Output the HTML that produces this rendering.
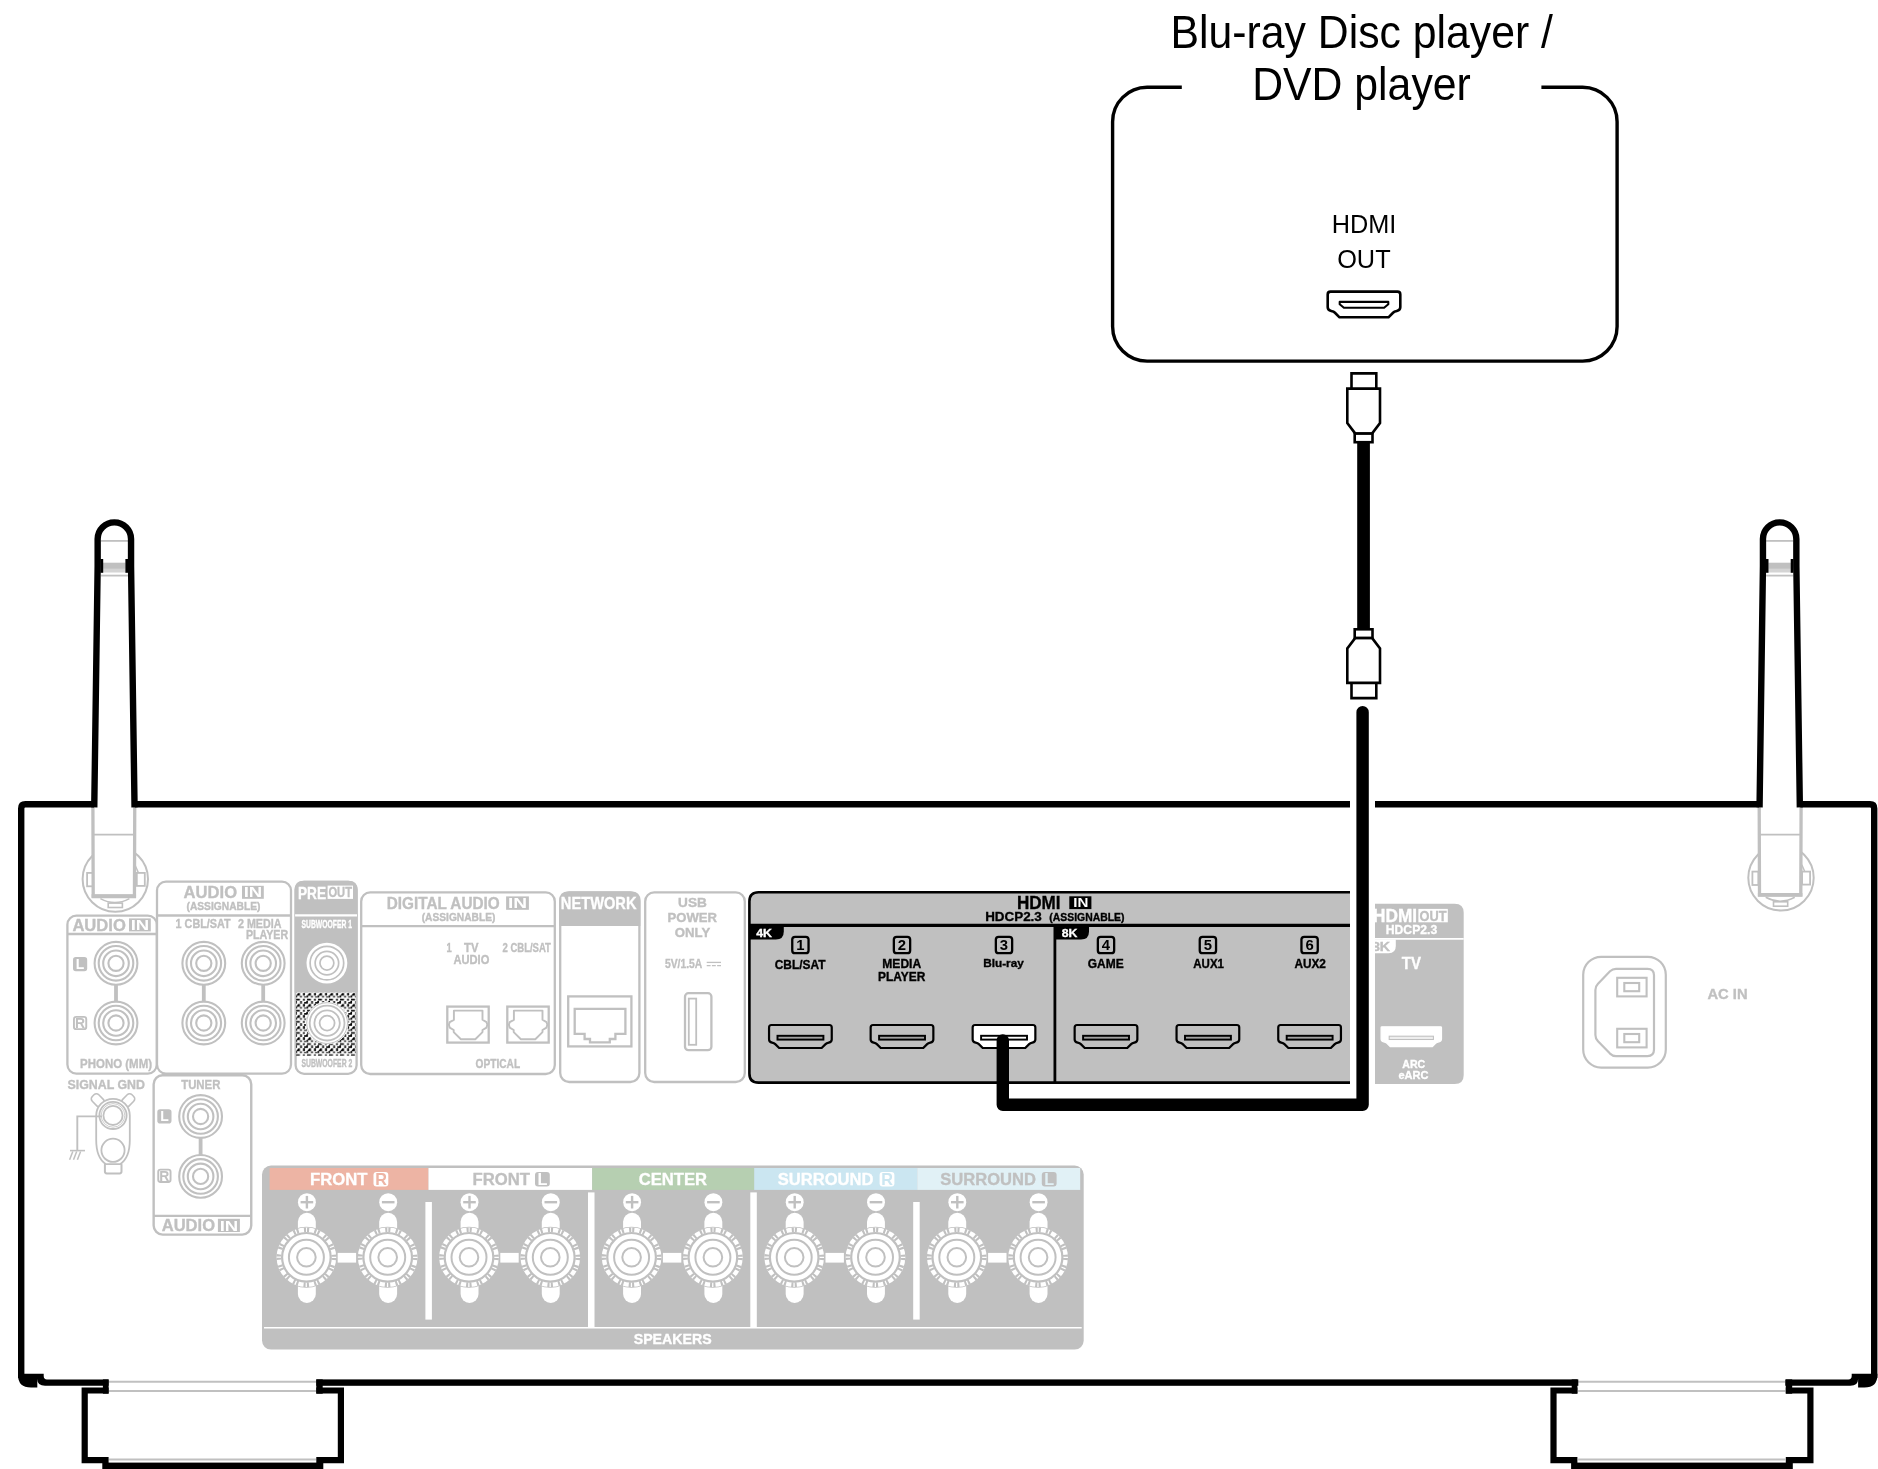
<!DOCTYPE html>
<html><head><meta charset="utf-8"><title>Blu-ray Disc player / DVD player connection</title>
<style>html,body{margin:0;padding:0;background:#fff}svg{display:block;will-change:transform}</style></head><body>
<svg width="1878" height="1469" viewBox="0 0 1878 1469">
<defs><pattern id="dither" x="295.9" y="992.64" width="11.03" height="11.1" patternUnits="userSpaceOnUse"><rect width="11.03" height="11.1" fill="#fff"/><g fill="#000"><path d="M0.08,2.94 L2.37,0.16 H4.0 V2.94 Z"/><rect x="4.17" y="3.27" width="1.8" height="1.63"/><rect x="4.17" y="-7.83" width="1.8" height="1.63"/><rect x="-6.86" y="3.27" width="1.8" height="1.63"/><rect x="-6.86" y="-7.83" width="1.8" height="1.63"/><rect x="7.10" y="0.16" width="1.96" height="2.78"/><rect x="7.10" y="-10.94" width="1.96" height="2.78"/><rect x="-3.93" y="0.16" width="1.96" height="2.78"/><rect x="-3.93" y="-10.94" width="1.96" height="2.78"/><rect x="10.50" y="2.94" width="1.7" height="1.96"/><rect x="10.50" y="-8.16" width="1.7" height="1.96"/><rect x="-0.53" y="2.94" width="1.7" height="1.96"/><rect x="-0.53" y="-8.16" width="1.7" height="1.96"/><rect x="8.10" y="3.90" width="2.45" height="1.0"/><rect x="8.10" y="-7.20" width="2.45" height="1.0"/><rect x="-2.93" y="3.90" width="2.45" height="1.0"/><rect x="-2.93" y="-7.20" width="2.45" height="1.0"/><rect x="0.08" y="6.20" width="3.9" height="1.63"/><rect x="0.08" y="-4.90" width="3.9" height="1.63"/><rect x="-10.95" y="6.20" width="3.9" height="1.63"/><rect x="-10.95" y="-4.90" width="3.9" height="1.63"/><rect x="7.10" y="6.20" width="1.8" height="1.8"/><rect x="7.10" y="-4.90" width="1.8" height="1.8"/><rect x="-3.93" y="6.20" width="1.8" height="1.8"/><rect x="-3.93" y="-4.90" width="1.8" height="1.8"/><rect x="4.33" y="8.33" width="1.63" height="2.78"/><rect x="4.33" y="-2.77" width="1.63" height="2.78"/><rect x="-6.70" y="8.33" width="1.63" height="2.78"/><rect x="-6.70" y="-2.77" width="1.63" height="2.78"/><rect x="8.25" y="9.30" width="3.76" height="1.63"/><rect x="8.25" y="-1.80" width="3.76" height="1.63"/><rect x="-2.78" y="9.30" width="3.76" height="1.63"/><rect x="-2.78" y="-1.80" width="3.76" height="1.63"/><rect x="10.37" y="8.17" width="1.63" height="1.3"/><rect x="10.37" y="-2.93" width="1.63" height="1.3"/><rect x="-0.66" y="8.17" width="1.63" height="1.3"/><rect x="-0.66" y="-2.93" width="1.63" height="1.3"/></g></pattern></defs>
<rect width="1878" height="1469" fill="#fff"/>
<circle cx="115.3" cy="879.1" r="32.7" fill="none" stroke="#c0c0c0" stroke-width="2"/>
<rect x="87.10000000000001" y="872.9" width="6" height="13.4" fill="#fff" stroke="#c0c0c0" stroke-width="1.8"/>
<rect x="136.8" y="872.9" width="8" height="13" fill="#fff" stroke="#c0c0c0" stroke-width="1.8"/>
<path d="M135.45000000000002,866.0 L138.45000000000002,872.9" fill="none" stroke="#c0c0c0" stroke-width="1.4"/>
<path d="M100.4,898.6 Q114.9,906.5 129.4,898.6" fill="none" stroke="#c0c0c0" stroke-width="1.6"/>
<rect x="108.2" y="903.1" width="14.2" height="4.4" fill="#fff" stroke="#c0c0c0" stroke-width="1.6"/>
<path d="M92.90,806 L93.20,896.2 H134.45 L134.75,806" fill="#fff" stroke="#c0c0c0" stroke-width="3.3"/>
<line x1="91.60" y1="896.2" x2="136.05" y2="896.2" stroke="#c0c0c0" stroke-width="3.9"/>
<line x1="93.20" y1="834.6" x2="134.45" y2="834.6" stroke="#c0c0c0" stroke-width="1.9"/>
<circle cx="1781.0" cy="877.8" r="32.7" fill="none" stroke="#c0c0c0" stroke-width="2"/>
<rect x="1752.4" y="871.6" width="6" height="13.4" fill="#fff" stroke="#c0c0c0" stroke-width="1.8"/>
<rect x="1802.1000000000001" y="871.6" width="8" height="13" fill="#fff" stroke="#c0c0c0" stroke-width="1.8"/>
<path d="M1801.8,864.7 L1804.8,871.6" fill="none" stroke="#c0c0c0" stroke-width="1.4"/>
<path d="M1765.7,897.3 Q1780.2,905.2 1794.7,897.3" fill="none" stroke="#c0c0c0" stroke-width="1.6"/>
<rect x="1773.5" y="901.8" width="14.2" height="4.4" fill="#fff" stroke="#c0c0c0" stroke-width="1.6"/>
<path d="M1759.20,806 L1759.50,894.9 H1800.80 L1801.10,806" fill="#fff" stroke="#c0c0c0" stroke-width="3.3"/>
<line x1="1757.90" y1="894.9" x2="1802.40" y2="894.9" stroke="#c0c0c0" stroke-width="3.9"/>
<line x1="1759.50" y1="834.6" x2="1800.80" y2="834.6" stroke="#c0c0c0" stroke-width="1.9"/>
<rect x="67.4" y="915.6" width="89.4" height="158" rx="9" fill="none" stroke="#c0c0c0" stroke-width="2.3"/>
<line x1="67.4" y1="934" x2="156.8" y2="934" stroke="#c0c0c0" stroke-width="2.3"/>
<text transform="translate(72.39,931.0) scale(0.9790,1)" font-size="16.95" font-family="Liberation Sans, sans-serif" font-weight="bold" fill="#c0c0c0" stroke="#c0c0c0" stroke-width="0.35" >AUDIO</text>
<rect x="129" y="918.4" width="21.8" height="13" fill="#c0c0c0"/>
<text transform="translate(130.69,930.2) scale(1.2479,1)" font-size="14.87" font-family="Liberation Sans, sans-serif" font-weight="bold" fill="#fff"  >IN</text>
<circle cx="116" cy="963.3" r="21.4" fill="none" stroke="#c0c0c0" stroke-width="2.1"/>
<circle cx="116" cy="963.3" r="17.3" fill="none" stroke="#c0c0c0" stroke-width="2.1"/>
<circle cx="116" cy="963.3" r="12.8" fill="none" stroke="#c0c0c0" stroke-width="2.1"/>
<circle cx="116" cy="963.3" r="7.6" fill="none" stroke="#c0c0c0" stroke-width="2.1"/>
<circle cx="116" cy="1023" r="21.4" fill="none" stroke="#c0c0c0" stroke-width="2.1"/>
<circle cx="116" cy="1023" r="17.3" fill="none" stroke="#c0c0c0" stroke-width="2.1"/>
<circle cx="116" cy="1023" r="12.8" fill="none" stroke="#c0c0c0" stroke-width="2.1"/>
<circle cx="116" cy="1023" r="7.6" fill="none" stroke="#c0c0c0" stroke-width="2.1"/>
<rect x="114.1" y="984.5" width="3.8" height="17.5" fill="#c0c0c0"/>
<rect x="73.0" y="957.1" width="14.2" height="14.2" rx="2.8" fill="#c0c0c0"/>
<text x="80.1" y="969.1" font-size="13.936000000000002" font-family="Liberation Sans, sans-serif" font-weight="bold" fill="#fff" text-anchor="middle">L</text>
<rect x="73.95" y="1016.8500000000001" width="12.3" height="12.3" rx="2.2" fill="#fff" stroke="#c0c0c0" stroke-width="1.9"/>
<text x="80.1" y="1027.9" font-size="13.936000000000002" font-family="Liberation Sans, sans-serif" font-weight="bold" fill="#c0c0c0" text-anchor="middle">R</text>
<text transform="translate(80.05,1068.2) scale(0.8764,1)" font-size="13.10" font-family="Liberation Sans, sans-serif" font-weight="bold" fill="#c0c0c0" stroke="#c0c0c0" stroke-width="0.35" >PHONO (MM)</text>
<rect x="157" y="881.6" width="134" height="192" rx="9" fill="none" stroke="#c0c0c0" stroke-width="2.3"/>
<line x1="157" y1="915.5" x2="291" y2="915.5" stroke="#c0c0c0" stroke-width="2.3"/>
<text transform="translate(183.59,898.2) scale(0.9790,1)" font-size="16.95" font-family="Liberation Sans, sans-serif" font-weight="bold" fill="#c0c0c0" stroke="#c0c0c0" stroke-width="0.35" >AUDIO</text>
<rect x="242" y="885.8" width="21.8" height="13" fill="#c0c0c0"/>
<text transform="translate(243.69,897.4) scale(1.2479,1)" font-size="14.87" font-family="Liberation Sans, sans-serif" font-weight="bold" fill="#fff"  >IN</text>
<text transform="translate(186.51,909.9) scale(1.0049,1)" font-size="10.19" font-family="Liberation Sans, sans-serif" font-weight="bold" fill="#c0c0c0" stroke="#c0c0c0" stroke-width="0.35" >(ASSIGNABLE)</text>
<text transform="translate(175.62,927.6) scale(0.8810,1)" font-size="12.27" font-family="Liberation Sans, sans-serif" font-weight="bold" fill="#c0c0c0" stroke="#c0c0c0" stroke-width="0.35" >1 CBL/SAT</text>
<text transform="translate(237.95,927.6) scale(0.8763,1)" font-size="12.27" font-family="Liberation Sans, sans-serif" font-weight="bold" fill="#c0c0c0" stroke="#c0c0c0" stroke-width="0.35" >2  MEDIA</text>
<text transform="translate(245.91,938.5) scale(0.8695,1)" font-size="12.27" font-family="Liberation Sans, sans-serif" font-weight="bold" fill="#c0c0c0" stroke="#c0c0c0" stroke-width="0.35" >PLAYER</text>
<circle cx="203.8" cy="963.3" r="21.4" fill="none" stroke="#c0c0c0" stroke-width="2.1"/>
<circle cx="203.8" cy="963.3" r="17.3" fill="none" stroke="#c0c0c0" stroke-width="2.1"/>
<circle cx="203.8" cy="963.3" r="12.8" fill="none" stroke="#c0c0c0" stroke-width="2.1"/>
<circle cx="203.8" cy="963.3" r="7.6" fill="none" stroke="#c0c0c0" stroke-width="2.1"/>
<circle cx="203.8" cy="1023" r="21.4" fill="none" stroke="#c0c0c0" stroke-width="2.1"/>
<circle cx="203.8" cy="1023" r="17.3" fill="none" stroke="#c0c0c0" stroke-width="2.1"/>
<circle cx="203.8" cy="1023" r="12.8" fill="none" stroke="#c0c0c0" stroke-width="2.1"/>
<circle cx="203.8" cy="1023" r="7.6" fill="none" stroke="#c0c0c0" stroke-width="2.1"/>
<rect x="201.9" y="984.5" width="3.8" height="17.5" fill="#c0c0c0"/>
<circle cx="263.2" cy="963.3" r="21.4" fill="none" stroke="#c0c0c0" stroke-width="2.1"/>
<circle cx="263.2" cy="963.3" r="17.3" fill="none" stroke="#c0c0c0" stroke-width="2.1"/>
<circle cx="263.2" cy="963.3" r="12.8" fill="none" stroke="#c0c0c0" stroke-width="2.1"/>
<circle cx="263.2" cy="963.3" r="7.6" fill="none" stroke="#c0c0c0" stroke-width="2.1"/>
<circle cx="263.2" cy="1023" r="21.4" fill="none" stroke="#c0c0c0" stroke-width="2.1"/>
<circle cx="263.2" cy="1023" r="17.3" fill="none" stroke="#c0c0c0" stroke-width="2.1"/>
<circle cx="263.2" cy="1023" r="12.8" fill="none" stroke="#c0c0c0" stroke-width="2.1"/>
<circle cx="263.2" cy="1023" r="7.6" fill="none" stroke="#c0c0c0" stroke-width="2.1"/>
<rect x="261.3" y="984.5" width="3.8" height="17.5" fill="#c0c0c0"/>
<path d="M294.6,992.5 V889.8 Q294.6,880.8 303.6,880.8 H348.6 Q357.6,880.8 357.6,889.8 V992.5 Z" fill="#c0c0c0"/>
<rect x="295.6" y="881.8" width="61" height="192" rx="8.5" fill="none" stroke="#c0c0c0" stroke-width="2.3"/>
<rect x="296.1" y="992.8" width="59.8" height="63" fill="url(#dither)"/>
<line x1="295.1" y1="915.3" x2="357" y2="915.3" stroke="#fff" stroke-width="2.2"/>
<text transform="translate(297.91,898.5) scale(0.8017,1)" font-size="17.10" font-family="Liberation Sans, sans-serif" font-weight="bold" fill="#fff" stroke="#fff" stroke-width="0.35" >PRE</text>
<rect x="327.6" y="885.6" width="25.4" height="13.3" fill="#fff"/>
<text transform="translate(328.45,897.3) scale(0.7853,1)" font-size="14.20" font-family="Liberation Sans, sans-serif" font-weight="bold" fill="#c0c0c0" stroke="#c0c0c0" stroke-width="0.35" >OUT</text>
<text transform="translate(301.51,927.9) scale(0.5905,1)" font-size="11.50" font-family="Liberation Sans, sans-serif" font-weight="bold" fill="#fff" stroke="#fff" stroke-width="0.35" >SUBWOOFER 1</text>
<circle cx="326.9" cy="963.1" r="20.4" fill="#fff"/>
<circle cx="326.9" cy="963.1" r="16.8" fill="none" stroke="#c0c0c0" stroke-width="1.7"/>
<circle cx="326.9" cy="963.1" r="11.75" fill="none" stroke="#c0c0c0" stroke-width="1.7"/>
<circle cx="326.9" cy="963.1" r="6.95" fill="none" stroke="#c0c0c0" stroke-width="1.7"/>
<circle cx="327.1" cy="1023.1" r="21.4" fill="#fff"/>
<circle cx="327.1" cy="1023.1" r="20.4" fill="none" stroke="#c0c0c0" stroke-width="1"/>
<circle cx="327.1" cy="1023.1" r="17.4" fill="none" stroke="#c0c0c0" stroke-width="1.8"/>
<circle cx="327.1" cy="1023.1" r="12.7" fill="none" stroke="#c0c0c0" stroke-width="1.8"/>
<circle cx="327.1" cy="1023.1" r="7.5" fill="none" stroke="#c0c0c0" stroke-width="1.8"/>
<text transform="translate(301.41,1067.4) scale(0.6110,1)" font-size="11.20" font-family="Liberation Sans, sans-serif" font-weight="bold" fill="#c0c0c0" stroke="#c0c0c0" stroke-width="0.35" >SUBWOOFER 2</text>
<rect x="361.2" y="892.4" width="193.6" height="181.6" rx="9" fill="none" stroke="#c0c0c0" stroke-width="2.3"/>
<line x1="361.2" y1="926.2" x2="554.8" y2="926.2" stroke="#c0c0c0" stroke-width="2.3"/>
<text transform="translate(386.80,909.0) scale(0.9340,1)" font-size="16.43" font-family="Liberation Sans, sans-serif" font-weight="bold" fill="#c0c0c0" stroke="#c0c0c0" stroke-width="0.35" >DIGITAL AUDIO</text>
<rect x="506.1" y="896.4" width="22.8" height="13.4" fill="#c0c0c0"/>
<text transform="translate(508.06,908.2) scale(1.2867,1)" font-size="14.87" font-family="Liberation Sans, sans-serif" font-weight="bold" fill="#fff"  >IN</text>
<text transform="translate(421.72,921.2) scale(1.0008,1)" font-size="10.19" font-family="Liberation Sans, sans-serif" font-weight="bold" fill="#c0c0c0" stroke="#c0c0c0" stroke-width="0.35" >(ASSIGNABLE)</text>
<text transform="translate(446.41,952.2) scale(0.7669,1)" font-size="12.27" font-family="Liberation Sans, sans-serif" font-weight="bold" fill="#c0c0c0" stroke="#c0c0c0" stroke-width="0.35" >1</text>
<text transform="translate(464.09,952.2) scale(0.9165,1)" font-size="12.27" font-family="Liberation Sans, sans-serif" font-weight="bold" fill="#c0c0c0" stroke="#c0c0c0" stroke-width="0.35" >TV</text>
<text transform="translate(453.42,963.8) scale(0.9084,1)" font-size="12.27" font-family="Liberation Sans, sans-serif" font-weight="bold" fill="#c0c0c0" stroke="#c0c0c0" stroke-width="0.35" >AUDIO</text>
<text transform="translate(502.49,952.2) scale(0.7758,1)" font-size="12.27" font-family="Liberation Sans, sans-serif" font-weight="bold" fill="#c0c0c0" stroke="#c0c0c0" stroke-width="0.35" >2 CBL/SAT</text>
<rect x="447.3" y="1006.6" width="41.4" height="36" fill="none" stroke="#c0c0c0" stroke-width="2.3"/>
<path d="M453.9,1010.6 L482.5,1010.6 L482.5,1019.8 L486.5,1022.1 L487.3,1024.8 L486.5,1027.6 L482.5,1030.0 L482.5,1032.1 L475.3,1039.2 L460.9,1039.2 L453.7,1032.1 L453.7,1030.0 L449.7,1027.6 L448.9,1024.8 L449.7,1022.1 L453.9,1019.8 Z" fill="none" stroke="#c0c0c0" stroke-width="1.9" stroke-linejoin="round"/>
<rect x="507.3" y="1006.6" width="41.4" height="36" fill="none" stroke="#c0c0c0" stroke-width="2.3"/>
<path d="M513.9,1010.6 L542.5,1010.6 L542.5,1019.8 L546.5,1022.1 L547.3,1024.8 L546.5,1027.6 L542.5,1030.0 L542.5,1032.1 L535.3,1039.2 L520.9,1039.2 L513.7,1032.1 L513.7,1030.0 L509.7,1027.6 L508.9,1024.8 L509.7,1022.1 L513.9,1019.8 Z" fill="none" stroke="#c0c0c0" stroke-width="1.9" stroke-linejoin="round"/>
<text transform="translate(475.59,1068.4) scale(0.8423,1)" font-size="12.06" font-family="Liberation Sans, sans-serif" font-weight="bold" fill="#c0c0c0" stroke="#c0c0c0" stroke-width="0.35" >OPTICAL</text>
<path d="M559.2,926 V900.4 Q559.2,891.4 568.2,891.4 H631.4 Q640.4,891.4 640.4,900.4 V926 Z" fill="#c0c0c0"/>
<rect x="560.2" y="892.4" width="79.2" height="189.6" rx="9" fill="none" stroke="#c0c0c0" stroke-width="2.3"/>
<text transform="translate(560.85,909.4) scale(0.8492,1)" font-size="17.26" font-family="Liberation Sans, sans-serif" font-weight="bold" fill="#fff" stroke="#fff" stroke-width="0.35" >NETWORK</text>
<rect x="568.2" y="996.4" width="63.2" height="50" fill="none" stroke="#c0c0c0" stroke-width="2.3"/>
<path d="M574.7,1008.8 H625.4 V1033.8 H615.4 V1039 H609.8 V1042.4 H590 V1039 H584.6 V1033.8 H574.7 Z" fill="none" stroke="#c0c0c0" stroke-width="2.3"/>
<rect x="645.2" y="892.4" width="99.6" height="189.6" rx="9" fill="none" stroke="#c0c0c0" stroke-width="2.3"/>
<text transform="translate(678.08,906.8) scale(1.0832,1)" font-size="12.60" font-family="Liberation Sans, sans-serif" font-weight="bold" fill="#c0c0c0" stroke="#c0c0c0" stroke-width="0.35" >USB</text>
<text transform="translate(667.55,921.8) scale(1.0403,1)" font-size="12.60" font-family="Liberation Sans, sans-serif" font-weight="bold" fill="#c0c0c0" stroke="#c0c0c0" stroke-width="0.35" >POWER</text>
<text transform="translate(674.87,936.6) scale(1.0461,1)" font-size="12.60" font-family="Liberation Sans, sans-serif" font-weight="bold" fill="#c0c0c0" stroke="#c0c0c0" stroke-width="0.35" >ONLY</text>
<text transform="translate(664.99,968.3) scale(0.8575,1)" font-size="12.06" font-family="Liberation Sans, sans-serif" font-weight="bold" fill="#c0c0c0" stroke="#c0c0c0" stroke-width="0.35" >5V/1.5A</text>
<line x1="706.7" y1="962.4" x2="721" y2="962.4" stroke="#c0c0c0" stroke-width="1.3"/>
<line x1="706.7" y1="965.6" x2="721" y2="965.6" stroke="#c0c0c0" stroke-width="1.3" stroke-dasharray="3.9 1.3"/>
<rect x="685" y="993.2" width="26.4" height="57" rx="3.5" fill="none" stroke="#c0c0c0" stroke-width="2.3"/>
<rect x="688.8" y="998.6" width="7.4" height="46.2" fill="none" stroke="#c0c0c0" stroke-width="1.8"/>
<text transform="translate(67.46,1089.2) scale(0.9528,1)" font-size="13.00" font-family="Liberation Sans, sans-serif" font-weight="bold" fill="#c0c0c0" stroke="#c0c0c0" stroke-width="0.35" >SIGNAL GND</text>
<rect x="91.2" y="1095.7" width="13.2" height="9.2" rx="3.4" fill="#fff" stroke="#c0c0c0" stroke-width="1.6" transform="rotate(45 97.8 1100.3)"/>
<rect x="121.6" y="1095.7" width="13.2" height="9.2" rx="3.4" fill="#fff" stroke="#c0c0c0" stroke-width="1.6" transform="rotate(-45 128.2 1100.3)"/>
<rect x="104.9" y="1163.2" width="16.6" height="10.2" rx="1.8" fill="#fff" stroke="#c0c0c0" stroke-width="2"/>
<path d="M96.2,1115.6 A16.8,16.8 0 0 1 129.8,1115.6 V1140 Q129.8,1158 120,1164.2 H106 Q96.2,1158 96.2,1140 Z" fill="#fff" stroke="#c0c0c0" stroke-width="1.8"/>
<circle cx="113" cy="1115.4" r="13.6" fill="none" stroke="#c0c0c0" stroke-width="1.8"/>
<circle cx="113" cy="1115.4" r="11.8" fill="none" stroke="#c0c0c0" stroke-width="0.8"/>
<circle cx="113" cy="1115.4" r="9.6" fill="#fff" stroke="#c0c0c0" stroke-width="1.8"/>
<circle cx="113" cy="1150.3" r="11.6" fill="none" stroke="#c0c0c0" stroke-width="1.8"/>
<path d="M102,1116.4 H77.3 V1150" fill="none" stroke="#c0c0c0" stroke-width="1.9"/>
<line x1="70" y1="1150.6" x2="85" y2="1150.6" stroke="#c0c0c0" stroke-width="1.6"/>
<line x1="72.8" y1="1151.4" x2="69.6" y2="1159.8" stroke="#c0c0c0" stroke-width="1.5"/>
<line x1="76.7" y1="1151.4" x2="73.5" y2="1159.8" stroke="#c0c0c0" stroke-width="1.5"/>
<line x1="80.6" y1="1151.4" x2="77.39999999999999" y2="1159.8" stroke="#c0c0c0" stroke-width="1.5"/>
<rect x="153.65" y="1075.2" width="97.6" height="159.4" rx="9" fill="none" stroke="#c0c0c0" stroke-width="2.4"/>
<line x1="154" y1="1215.8" x2="251" y2="1215.8" stroke="#c0c0c0" stroke-width="2.3"/>
<text transform="translate(181.19,1089.2) scale(0.8762,1)" font-size="13.00" font-family="Liberation Sans, sans-serif" font-weight="bold" fill="#c0c0c0" stroke="#c0c0c0" stroke-width="0.35" >TUNER</text>
<circle cx="200.6" cy="1116.5" r="21.4" fill="none" stroke="#c0c0c0" stroke-width="2.1"/>
<circle cx="200.6" cy="1116.5" r="17.3" fill="none" stroke="#c0c0c0" stroke-width="2.1"/>
<circle cx="200.6" cy="1116.5" r="12.8" fill="none" stroke="#c0c0c0" stroke-width="2.1"/>
<circle cx="200.6" cy="1116.5" r="7.6" fill="none" stroke="#c0c0c0" stroke-width="2.1"/>
<circle cx="200.6" cy="1176.4" r="21.4" fill="none" stroke="#c0c0c0" stroke-width="2.1"/>
<circle cx="200.6" cy="1176.4" r="17.3" fill="none" stroke="#c0c0c0" stroke-width="2.1"/>
<circle cx="200.6" cy="1176.4" r="12.8" fill="none" stroke="#c0c0c0" stroke-width="2.1"/>
<circle cx="200.6" cy="1176.4" r="7.6" fill="none" stroke="#c0c0c0" stroke-width="2.1"/>
<rect x="198.7" y="1137.6" width="3.8" height="17.6" fill="#c0c0c0"/>
<rect x="157.29999999999998" y="1109.3" width="14.2" height="14.2" rx="2.8" fill="#c0c0c0"/>
<text x="164.4" y="1121.3" font-size="13.936000000000002" font-family="Liberation Sans, sans-serif" font-weight="bold" fill="#fff" text-anchor="middle">L</text>
<rect x="158.24999999999997" y="1169.65" width="12.3" height="12.3" rx="2.2" fill="#fff" stroke="#c0c0c0" stroke-width="1.9"/>
<text x="164.4" y="1180.7" font-size="13.936000000000002" font-family="Liberation Sans, sans-serif" font-weight="bold" fill="#c0c0c0" text-anchor="middle">R</text>
<text transform="translate(161.69,1231.4) scale(0.9771,1)" font-size="16.95" font-family="Liberation Sans, sans-serif" font-weight="bold" fill="#c0c0c0" stroke="#c0c0c0" stroke-width="0.35" >AUDIO</text>
<rect x="217.9" y="1218.8" width="22" height="13.2" fill="#c0c0c0"/>
<text transform="translate(219.69,1230.6) scale(1.2479,1)" font-size="14.87" font-family="Liberation Sans, sans-serif" font-weight="bold" fill="#fff"  >IN</text>
<path d="M1370,903.8 H1454.7 Q1463.7,903.8 1463.7,912.8 V1074.9 Q1463.7,1083.9 1454.7,1083.9 H1370 Z" fill="#c0c0c0"/>
<line x1="1370" y1="938.8" x2="1463.7" y2="938.8" stroke="#fff" stroke-width="1.7"/>
<text transform="translate(1373.08,922.2) scale(0.9749,1)" font-size="17.68" font-family="Liberation Sans, sans-serif" font-weight="bold" fill="#fff" stroke="#fff" stroke-width="0.35" >HDMI</text>
<rect x="1418.4" y="908.9" width="29.4" height="13.4" fill="#fff"/>
<text transform="translate(1419.49,921.4) scale(0.8547,1)" font-size="14.98" font-family="Liberation Sans, sans-serif" font-weight="bold" fill="#c0c0c0" stroke="#c0c0c0" stroke-width="0.35" >OUT</text>
<text transform="translate(1385.81,934.1) scale(0.9582,1)" font-size="12.70" font-family="Liberation Sans, sans-serif" font-weight="bold" fill="#fff" stroke="#fff" stroke-width="0.35" >HDCP2.3</text>
<path d="M1370,939.6 H1395.8 V946 Q1395.8,953.2 1388.6,953.2 H1370 Z" fill="#fff"/>
<text transform="translate(1371.97,950.6) scale(1.1373,1)" font-size="12.48" font-family="Liberation Sans, sans-serif" font-weight="bold" fill="#c0c0c0" stroke="#c0c0c0" stroke-width="0.35" >8K</text>
<text transform="translate(1401.85,969.0) scale(0.9347,1)" font-size="16.02" font-family="Liberation Sans, sans-serif" font-weight="bold" fill="#fff" stroke="#fff" stroke-width="0.35" >TV</text>
<path d="M1381.90,1026.80 H1440.70 Q1441.50,1026.80 1441.50,1027.60 V1038.96 Q1441.50,1041.21 1438.80,1041.84 Q1436.82,1042.29 1435.92,1043.19 L1432.41,1046.70 H1390.19 L1386.68,1043.19 Q1385.78,1042.29 1383.80,1041.84 Q1381.10,1041.21 1381.10,1038.96 V1027.60 Q1381.10,1026.80 1381.90,1026.80 Z" fill="#fff" stroke="#fff" stroke-width="1.2" stroke-linejoin="round"/>
<rect x="1389.2" y="1036.2" width="44.2" height="3.3" fill="#eee" stroke="#c0c0c0" stroke-width="1.06"/>
<text transform="translate(1402.23,1068.1) scale(0.9850,1)" font-size="10.80" font-family="Liberation Sans, sans-serif" font-weight="bold" fill="#fff" stroke="#fff" stroke-width="0.35" >ARC</text>
<text transform="translate(1398.39,1078.7) scale(1.0244,1)" font-size="10.80" font-family="Liberation Sans, sans-serif" font-weight="bold" fill="#fff" stroke="#fff" stroke-width="0.35" >eARC</text>
<rect x="1583.2" y="956.8" width="82.6" height="110.8" rx="18" fill="none" stroke="#c0c0c0" stroke-width="2.2"/>
<path d="M1616,968.8 H1647.5 Q1654,968.8 1654,975.3 V1049.6 Q1654,1056.1 1647.5,1056.1 H1616 Q1612.6,1056.1 1610,1053.6 L1598,1041.2 Q1595.4,1038.6 1595.4,1035 V990 Q1595.4,986.4 1598,983.8 L1610,971.3 Q1612.6,968.8 1616,968.8 Z" fill="none" stroke="#c0c0c0" stroke-width="2.2" stroke-linejoin="round"/>
<rect x="1617.2" y="977.8" width="29.4" height="18.6" fill="none" stroke="#c0c0c0" stroke-width="2.1"/>
<rect x="1624.3" y="983.0" width="14.9" height="8.2" fill="none" stroke="#c0c0c0" stroke-width="2.1"/>
<rect x="1617.2" y="1028.8" width="29.4" height="18.6" fill="none" stroke="#c0c0c0" stroke-width="2.1"/>
<rect x="1624.3" y="1034.0" width="14.9" height="8.2" fill="none" stroke="#c0c0c0" stroke-width="2.1"/>
<text transform="translate(1707.43,998.6) scale(1.0036,1)" font-size="14.70" font-family="Liberation Sans, sans-serif" font-weight="bold" fill="#c0c0c0" stroke="#c0c0c0" stroke-width="0.35" >AC IN</text>
<rect x="262" y="1165.6" width="821.7" height="184" rx="9" fill="#c0c0c0"/>
<rect x="269.6" y="1168" width="158.9" height="21.9" fill="#edb4a4"/>
<rect x="428.5" y="1168" width="163.7" height="21.9" fill="#ffffff"/>
<rect x="592.2" y="1168" width="162.0" height="21.9" fill="#b6cfb1"/>
<rect x="754.2" y="1168" width="163.0" height="21.9" fill="#cbe6f1"/>
<rect x="917.2" y="1168" width="163.0" height="21.9" fill="#e1f1f6"/>
<text transform="translate(310.01,1185.3) scale(0.9713,1)" font-size="17.20" font-family="Liberation Sans, sans-serif" font-weight="bold" fill="#fff" stroke="#fff" stroke-width="0.35" >FRONT</text>
<rect x="373.5" y="1172" width="14.8" height="14.4" rx="3" fill="#fff"/>
<text x="381.0" y="1185.2" font-size="16.224" font-family="Liberation Sans, sans-serif" font-weight="bold" fill="#edb4a4" text-anchor="middle">R</text>
<text transform="translate(472.51,1185.3) scale(0.9713,1)" font-size="17.20" font-family="Liberation Sans, sans-serif" font-weight="bold" fill="#c0c0c0" stroke="#c0c0c0" stroke-width="0.35" >FRONT</text>
<rect x="535" y="1172" width="14.8" height="14.4" rx="3" fill="#c0c0c0"/>
<text x="542.5" y="1185.2" font-size="16.224" font-family="Liberation Sans, sans-serif" font-weight="bold" fill="#fff" text-anchor="middle">L</text>
<text transform="translate(638.73,1185.3) scale(0.9670,1)" font-size="17.20" font-family="Liberation Sans, sans-serif" font-weight="bold" fill="#fff" stroke="#fff" stroke-width="0.35" >CENTER</text>
<text transform="translate(777.74,1185.3) scale(0.9632,1)" font-size="17.20" font-family="Liberation Sans, sans-serif" font-weight="bold" fill="#fff" stroke="#fff" stroke-width="0.35" >SURROUND</text>
<rect x="879.6" y="1172" width="14.8" height="14.4" rx="3" fill="#fff"/>
<text x="887.1" y="1185.2" font-size="16.224" font-family="Liberation Sans, sans-serif" font-weight="bold" fill="#cbe6f1" text-anchor="middle">R</text>
<text transform="translate(940.24,1185.3) scale(0.9632,1)" font-size="17.20" font-family="Liberation Sans, sans-serif" font-weight="bold" fill="#c0c0c0" stroke="#c0c0c0" stroke-width="0.35" >SURROUND</text>
<rect x="1041.8" y="1172" width="14.8" height="14.4" rx="3" fill="#c0c0c0"/>
<text x="1049.3" y="1185.2" font-size="16.224" font-family="Liberation Sans, sans-serif" font-weight="bold" fill="#e1f1f6" text-anchor="middle">L</text>
<line x1="264" y1="1327.8" x2="1081.7" y2="1327.8" stroke="#fff" stroke-width="1.6"/>
<text transform="translate(633.71,1344.2) scale(0.9726,1)" font-size="14.56" font-family="Liberation Sans, sans-serif" font-weight="bold" fill="#fff" stroke="#fff" stroke-width="0.35" >SPEAKERS</text>
<rect x="425.4" y="1202" width="6.5" height="117.6" fill="#fff"/>
<rect x="588" y="1192.4" width="6.5" height="135.0" fill="#fff"/>
<rect x="750.3" y="1192.4" width="6.5" height="135.0" fill="#fff"/>
<rect x="913.2" y="1202" width="6.5" height="117.6" fill="#fff"/>
<rect x="337.7" y="1252.9" width="18.4" height="9.7" fill="#fff"/>
<rect x="500.3" y="1252.9" width="18.4" height="9.7" fill="#fff"/>
<rect x="662.9" y="1252.9" width="18.4" height="9.7" fill="#fff"/>
<rect x="825.5" y="1252.9" width="18.4" height="9.7" fill="#fff"/>
<rect x="988.1" y="1252.9" width="18.4" height="9.7" fill="#fff"/>
<rect x="297.9" y="1212.8" width="17.9" height="90.1" rx="8.95" fill="#fff"/>
<circle cx="306.4" cy="1257.3" r="30.5" fill="#c0c0c0"/>
<circle cx="306.4" cy="1257.3" r="29.8" fill="#fff"/>
<circle cx="306.4" cy="1257.3" r="27.45" fill="none" stroke="#c0c0c0" stroke-width="4.9" stroke-dasharray="2.1 1.3 2.1 5.280" stroke-dashoffset="2.75" transform="rotate(-90 306.4 1257.3)"/>
<circle cx="306.4" cy="1257.3" r="24.3" fill="none" stroke="#c0c0c0" stroke-width="2.2"/>
<circle cx="306.4" cy="1257.3" r="17.5" fill="none" stroke="#c0c0c0" stroke-width="2"/>
<circle cx="306.4" cy="1257.3" r="9.3" fill="none" stroke="#c0c0c0" stroke-width="2"/>
<circle cx="306.9" cy="1202.2" r="8.95" fill="#fff"/>
<line x1="300.6" y1="1202.2" x2="313.2" y2="1202.2" stroke="#c0c0c0" stroke-width="2.4"/>
<line x1="306.9" y1="1195.9" x2="306.9" y2="1208.5" stroke="#c0c0c0" stroke-width="2.4"/>
<rect x="379.2" y="1212.8" width="17.9" height="90.1" rx="8.95" fill="#fff"/>
<circle cx="387.7" cy="1257.3" r="30.5" fill="#c0c0c0"/>
<circle cx="387.7" cy="1257.3" r="29.8" fill="#fff"/>
<circle cx="387.7" cy="1257.3" r="27.45" fill="none" stroke="#c0c0c0" stroke-width="4.9" stroke-dasharray="2.1 1.3 2.1 5.280" stroke-dashoffset="2.75" transform="rotate(-90 387.7 1257.3)"/>
<circle cx="387.7" cy="1257.3" r="24.3" fill="none" stroke="#c0c0c0" stroke-width="2.2"/>
<circle cx="387.7" cy="1257.3" r="17.5" fill="none" stroke="#c0c0c0" stroke-width="2"/>
<circle cx="387.7" cy="1257.3" r="9.3" fill="none" stroke="#c0c0c0" stroke-width="2"/>
<circle cx="388.2" cy="1202.2" r="8.95" fill="#fff"/>
<line x1="381.9" y1="1202.2" x2="394.5" y2="1202.2" stroke="#c0c0c0" stroke-width="2.4"/>
<rect x="460.6" y="1212.8" width="17.9" height="90.1" rx="8.95" fill="#fff"/>
<circle cx="469.0" cy="1257.3" r="30.5" fill="#c0c0c0"/>
<circle cx="469.0" cy="1257.3" r="29.8" fill="#fff"/>
<circle cx="469.0" cy="1257.3" r="27.45" fill="none" stroke="#c0c0c0" stroke-width="4.9" stroke-dasharray="2.1 1.3 2.1 5.280" stroke-dashoffset="2.75" transform="rotate(-90 469.0 1257.3)"/>
<circle cx="469.0" cy="1257.3" r="24.3" fill="none" stroke="#c0c0c0" stroke-width="2.2"/>
<circle cx="469.0" cy="1257.3" r="17.5" fill="none" stroke="#c0c0c0" stroke-width="2"/>
<circle cx="469.0" cy="1257.3" r="9.3" fill="none" stroke="#c0c0c0" stroke-width="2"/>
<circle cx="469.5" cy="1202.2" r="8.95" fill="#fff"/>
<line x1="463.2" y1="1202.2" x2="475.8" y2="1202.2" stroke="#c0c0c0" stroke-width="2.4"/>
<line x1="469.5" y1="1195.9" x2="469.5" y2="1208.5" stroke="#c0c0c0" stroke-width="2.4"/>
<rect x="541.8" y="1212.8" width="17.9" height="90.1" rx="8.95" fill="#fff"/>
<circle cx="550.3" cy="1257.3" r="30.5" fill="#c0c0c0"/>
<circle cx="550.3" cy="1257.3" r="29.8" fill="#fff"/>
<circle cx="550.3" cy="1257.3" r="27.45" fill="none" stroke="#c0c0c0" stroke-width="4.9" stroke-dasharray="2.1 1.3 2.1 5.280" stroke-dashoffset="2.75" transform="rotate(-90 550.3 1257.3)"/>
<circle cx="550.3" cy="1257.3" r="24.3" fill="none" stroke="#c0c0c0" stroke-width="2.2"/>
<circle cx="550.3" cy="1257.3" r="17.5" fill="none" stroke="#c0c0c0" stroke-width="2"/>
<circle cx="550.3" cy="1257.3" r="9.3" fill="none" stroke="#c0c0c0" stroke-width="2"/>
<circle cx="550.8" cy="1202.2" r="8.95" fill="#fff"/>
<line x1="544.5" y1="1202.2" x2="557.1" y2="1202.2" stroke="#c0c0c0" stroke-width="2.4"/>
<rect x="623.1" y="1212.8" width="17.9" height="90.1" rx="8.95" fill="#fff"/>
<circle cx="631.6" cy="1257.3" r="30.5" fill="#c0c0c0"/>
<circle cx="631.6" cy="1257.3" r="29.8" fill="#fff"/>
<circle cx="631.6" cy="1257.3" r="27.45" fill="none" stroke="#c0c0c0" stroke-width="4.9" stroke-dasharray="2.1 1.3 2.1 5.280" stroke-dashoffset="2.75" transform="rotate(-90 631.6 1257.3)"/>
<circle cx="631.6" cy="1257.3" r="24.3" fill="none" stroke="#c0c0c0" stroke-width="2.2"/>
<circle cx="631.6" cy="1257.3" r="17.5" fill="none" stroke="#c0c0c0" stroke-width="2"/>
<circle cx="631.6" cy="1257.3" r="9.3" fill="none" stroke="#c0c0c0" stroke-width="2"/>
<circle cx="632.1" cy="1202.2" r="8.95" fill="#fff"/>
<line x1="625.8" y1="1202.2" x2="638.4" y2="1202.2" stroke="#c0c0c0" stroke-width="2.4"/>
<line x1="632.1" y1="1195.9" x2="632.1" y2="1208.5" stroke="#c0c0c0" stroke-width="2.4"/>
<rect x="704.4" y="1212.8" width="17.9" height="90.1" rx="8.95" fill="#fff"/>
<circle cx="712.9" cy="1257.3" r="30.5" fill="#c0c0c0"/>
<circle cx="712.9" cy="1257.3" r="29.8" fill="#fff"/>
<circle cx="712.9" cy="1257.3" r="27.45" fill="none" stroke="#c0c0c0" stroke-width="4.9" stroke-dasharray="2.1 1.3 2.1 5.280" stroke-dashoffset="2.75" transform="rotate(-90 712.9 1257.3)"/>
<circle cx="712.9" cy="1257.3" r="24.3" fill="none" stroke="#c0c0c0" stroke-width="2.2"/>
<circle cx="712.9" cy="1257.3" r="17.5" fill="none" stroke="#c0c0c0" stroke-width="2"/>
<circle cx="712.9" cy="1257.3" r="9.3" fill="none" stroke="#c0c0c0" stroke-width="2"/>
<circle cx="713.4" cy="1202.2" r="8.95" fill="#fff"/>
<line x1="707.1" y1="1202.2" x2="719.7" y2="1202.2" stroke="#c0c0c0" stroke-width="2.4"/>
<rect x="785.7" y="1212.8" width="17.9" height="90.1" rx="8.95" fill="#fff"/>
<circle cx="794.2" cy="1257.3" r="30.5" fill="#c0c0c0"/>
<circle cx="794.2" cy="1257.3" r="29.8" fill="#fff"/>
<circle cx="794.2" cy="1257.3" r="27.45" fill="none" stroke="#c0c0c0" stroke-width="4.9" stroke-dasharray="2.1 1.3 2.1 5.280" stroke-dashoffset="2.75" transform="rotate(-90 794.2 1257.3)"/>
<circle cx="794.2" cy="1257.3" r="24.3" fill="none" stroke="#c0c0c0" stroke-width="2.2"/>
<circle cx="794.2" cy="1257.3" r="17.5" fill="none" stroke="#c0c0c0" stroke-width="2"/>
<circle cx="794.2" cy="1257.3" r="9.3" fill="none" stroke="#c0c0c0" stroke-width="2"/>
<circle cx="794.7" cy="1202.2" r="8.95" fill="#fff"/>
<line x1="788.4" y1="1202.2" x2="801.0" y2="1202.2" stroke="#c0c0c0" stroke-width="2.4"/>
<line x1="794.7" y1="1195.9" x2="794.7" y2="1208.5" stroke="#c0c0c0" stroke-width="2.4"/>
<rect x="867.0" y="1212.8" width="17.9" height="90.1" rx="8.95" fill="#fff"/>
<circle cx="875.5" cy="1257.3" r="30.5" fill="#c0c0c0"/>
<circle cx="875.5" cy="1257.3" r="29.8" fill="#fff"/>
<circle cx="875.5" cy="1257.3" r="27.45" fill="none" stroke="#c0c0c0" stroke-width="4.9" stroke-dasharray="2.1 1.3 2.1 5.280" stroke-dashoffset="2.75" transform="rotate(-90 875.5 1257.3)"/>
<circle cx="875.5" cy="1257.3" r="24.3" fill="none" stroke="#c0c0c0" stroke-width="2.2"/>
<circle cx="875.5" cy="1257.3" r="17.5" fill="none" stroke="#c0c0c0" stroke-width="2"/>
<circle cx="875.5" cy="1257.3" r="9.3" fill="none" stroke="#c0c0c0" stroke-width="2"/>
<circle cx="876.0" cy="1202.2" r="8.95" fill="#fff"/>
<line x1="869.7" y1="1202.2" x2="882.3" y2="1202.2" stroke="#c0c0c0" stroke-width="2.4"/>
<rect x="948.3" y="1212.8" width="17.9" height="90.1" rx="8.95" fill="#fff"/>
<circle cx="956.8" cy="1257.3" r="30.5" fill="#c0c0c0"/>
<circle cx="956.8" cy="1257.3" r="29.8" fill="#fff"/>
<circle cx="956.8" cy="1257.3" r="27.45" fill="none" stroke="#c0c0c0" stroke-width="4.9" stroke-dasharray="2.1 1.3 2.1 5.280" stroke-dashoffset="2.75" transform="rotate(-90 956.8 1257.3)"/>
<circle cx="956.8" cy="1257.3" r="24.3" fill="none" stroke="#c0c0c0" stroke-width="2.2"/>
<circle cx="956.8" cy="1257.3" r="17.5" fill="none" stroke="#c0c0c0" stroke-width="2"/>
<circle cx="956.8" cy="1257.3" r="9.3" fill="none" stroke="#c0c0c0" stroke-width="2"/>
<circle cx="957.3" cy="1202.2" r="8.95" fill="#fff"/>
<line x1="951.0" y1="1202.2" x2="963.6" y2="1202.2" stroke="#c0c0c0" stroke-width="2.4"/>
<line x1="957.3" y1="1195.9" x2="957.3" y2="1208.5" stroke="#c0c0c0" stroke-width="2.4"/>
<rect x="1029.6" y="1212.8" width="17.9" height="90.1" rx="8.95" fill="#fff"/>
<circle cx="1038.1" cy="1257.3" r="30.5" fill="#c0c0c0"/>
<circle cx="1038.1" cy="1257.3" r="29.8" fill="#fff"/>
<circle cx="1038.1" cy="1257.3" r="27.45" fill="none" stroke="#c0c0c0" stroke-width="4.9" stroke-dasharray="2.1 1.3 2.1 5.280" stroke-dashoffset="2.75" transform="rotate(-90 1038.1 1257.3)"/>
<circle cx="1038.1" cy="1257.3" r="24.3" fill="none" stroke="#c0c0c0" stroke-width="2.2"/>
<circle cx="1038.1" cy="1257.3" r="17.5" fill="none" stroke="#c0c0c0" stroke-width="2"/>
<circle cx="1038.1" cy="1257.3" r="9.3" fill="none" stroke="#c0c0c0" stroke-width="2"/>
<circle cx="1038.6" cy="1202.2" r="8.95" fill="#fff"/>
<line x1="1032.3" y1="1202.2" x2="1044.9" y2="1202.2" stroke="#c0c0c0" stroke-width="2.4"/>
<line x1="108.6" y1="1381.8" x2="316.3" y2="1381.8" stroke="#c0c0c0" stroke-width="2"/>
<line x1="108.6" y1="1391.1" x2="316.3" y2="1391.1" stroke="#c0c0c0" stroke-width="2"/>
<line x1="108.6" y1="1459.6" x2="316.3" y2="1459.6" stroke="#c0c0c0" stroke-width="2"/>
<line x1="1578.1" y1="1381.8" x2="1785.3" y2="1381.8" stroke="#c0c0c0" stroke-width="2"/>
<line x1="1578.1" y1="1391.1" x2="1785.3" y2="1391.1" stroke="#c0c0c0" stroke-width="2"/>
<line x1="1578.1" y1="1459.6" x2="1785.3" y2="1459.6" stroke="#c0c0c0" stroke-width="2"/>
<path d="M21.2,1378 V808.4 Q21.2,804.2 25.4,804.2 H94" fill="none" stroke="#000" stroke-width="6.4"/>
<path d="M134.8,804.2 H1350" fill="none" stroke="#000" stroke-width="6.4"/>
<path d="M1375,804.2 H1759.2" fill="none" stroke="#000" stroke-width="6.4"/>
<path d="M1800.4,804.2 H1870 Q1874.2,804.2 1874.2,808.4 V1378" fill="none" stroke="#000" stroke-width="6.4"/>
<path d="M18,1373.7 H43.7 V1376 Q43.7,1379.4 47,1379.4 H108.6 V1385.8 H45 Q37.3,1385.8 37.3,1379 V1387.5 H31 Q18,1387.5 18,1375 Z" fill="#000"/>
<path d="M1877.4,1373.7 H1851.7 V1376 Q1851.7,1379.4 1848.4,1379.4 H1785.3 V1385.8 H1850.4 Q1858.1,1385.8 1858.1,1379 V1387.5 H1864.4 Q1877.4,1387.5 1877.4,1375 Z" fill="#000"/>
<rect x="316.3" y="1379.4" width="1262" height="6.4" fill="#000"/>
<rect x="102.9" y="1379.4" width="5.7" height="14.3" fill="#000"/>
<rect x="316.3" y="1379.4" width="6.4" height="14.3" fill="#000"/>
<path d="M108.6,1390.5 H84.7 V1460.1 H108.6" fill="none" stroke="#000" stroke-width="6.2"/>
<path d="M316.3,1390.5 H340.9 V1460.1 H316.3" fill="none" stroke="#000" stroke-width="6.2"/>
<rect x="102.3" y="1462.6" width="221.0" height="8" fill="#000"/>
<rect x="1571.7" y="1379.4" width="5.7" height="14.3" fill="#000"/>
<rect x="1785.8" y="1379.4" width="6.4" height="14.3" fill="#000"/>
<path d="M1577.4,1390.5 H1553.5 V1460.1 H1577.4" fill="none" stroke="#000" stroke-width="6.2"/>
<path d="M1785.8,1390.5 H1810.4 V1460.1 H1785.8" fill="none" stroke="#000" stroke-width="6.2"/>
<rect x="1571.1" y="1462.6" width="221.7" height="8" fill="#000"/>
<line x1="100.80000000000001" y1="540.9" x2="128.0" y2="540.9" stroke="#c0c0c0" stroke-width="1.8"/>
<rect x="103.0" y="562.7" width="22.6" height="6.2" fill="#c0c0c0"/>
<rect x="103.0" y="568.9" width="22.6" height="3.6" fill="#d4d4d4"/>
<line x1="100.80000000000001" y1="575.6" x2="128.0" y2="575.6" stroke="#c0c0c0" stroke-width="1.8"/>
<path d="M94.25,807.4 L97.65,566 V539.1 A16.7,16.7 0 0 1 131.05,539.1 V566 L134.55,807.4" fill="none" stroke="#000" stroke-width="6.4" stroke-linejoin="miter"/>
<rect x="100.4" y="559" width="2.8" height="13.8" fill="#000"/>
<rect x="125.4" y="559" width="2.8" height="13.8" fill="#000"/>
<line x1="1766.1000000000001" y1="540.9" x2="1793.3" y2="540.9" stroke="#c0c0c0" stroke-width="1.8"/>
<rect x="1768.3" y="562.7" width="22.6" height="6.2" fill="#c0c0c0"/>
<rect x="1768.3" y="568.9" width="22.6" height="3.6" fill="#d4d4d4"/>
<line x1="1766.1000000000001" y1="575.6" x2="1793.3" y2="575.6" stroke="#c0c0c0" stroke-width="1.8"/>
<path d="M1759.55,807.4 L1762.95,566 V539.1 A16.7,16.7 0 0 1 1796.3500000000001,539.1 V566 L1799.8500000000001,807.4" fill="none" stroke="#000" stroke-width="6.4" stroke-linejoin="miter"/>
<rect x="1765.7" y="559" width="2.8" height="13.8" fill="#000"/>
<rect x="1790.7" y="559" width="2.8" height="13.8" fill="#000"/>
<path d="M1350,892.3 H758.6 Q749.4,892.3 749.4,901.5 V1073.4 Q749.4,1082.6 758.6,1082.6 H1350 Z" fill="#c0c0c0"/>
<path d="M1350,892.3 H758.6 Q749.4,892.3 749.4,901.5 V1073.4 Q749.4,1082.6 758.6,1082.6 H1350" fill="none" stroke="#000" stroke-width="2.6"/>
<line x1="749.4" y1="925.4" x2="1350" y2="925.4" stroke="#000" stroke-width="3.2"/>
<line x1="1054.9" y1="925.4" x2="1054.9" y2="1082.6" stroke="#000" stroke-width="2.8"/>
<path d="M749,925 H783.8 V931.4 Q783.8,939.4 775.8,939.4 H749 Z" fill="#000"/>
<path d="M1054.9,925 H1089 V931.4 Q1089,939.4 1081,939.4 H1054.9 Z" fill="#000"/>
<text transform="translate(756.22,936.8) scale(1.0764,1)" font-size="11.40" font-family="Liberation Sans, sans-serif" font-weight="bold" fill="#fff" stroke="#fff" stroke-width="0.35" >4K</text>
<text transform="translate(1061.63,936.8) scale(1.0753,1)" font-size="11.40" font-family="Liberation Sans, sans-serif" font-weight="bold" fill="#fff" stroke="#fff" stroke-width="0.35" >8K</text>
<text transform="translate(1016.89,908.5) scale(0.9645,1)" font-size="17.70" font-family="Liberation Sans, sans-serif" font-weight="bold" fill="#000" stroke="#000" stroke-width="0.35" >HDMI</text>
<rect x="1069.3" y="896.3" width="22.1" height="12.8" fill="#000"/>
<text transform="translate(1073.22,907.4) scale(1.1890,1)" font-size="12.70" font-family="Liberation Sans, sans-serif" font-weight="bold" fill="#fff"  >IN</text>
<text transform="translate(985.13,921.4) scale(1.0331,1)" font-size="13.00" font-family="Liberation Sans, sans-serif" font-weight="bold" fill="#000" stroke="#000" stroke-width="0.35" >HDCP2.3</text>
<text transform="translate(1049.31,920.9) scale(0.9821,1)" font-size="10.60" font-family="Liberation Sans, sans-serif" font-weight="bold" fill="#000" stroke="#000" stroke-width="0.35" >(ASSIGNABLE)</text>
<rect x="792.25" y="936.8" width="16.3" height="16.4" rx="2.8" fill="none" stroke="#000" stroke-width="2.3"/>
<text x="800.4" y="950.2" font-size="14.872000000000002" font-family="Liberation Sans, sans-serif" font-weight="bold" fill="#000" text-anchor="middle">1</text>
<path d="M771.45,1025.00 H829.35 Q831.75,1025.00 831.75,1027.40 V1039.40 Q831.75,1041.90 828.75,1042.60 Q826.55,1043.10 825.55,1044.10 L821.65,1048.00 H779.15 L775.25,1044.10 Q774.25,1043.10 772.05,1042.60 Q769.05,1041.90 769.05,1039.40 V1027.40 Q769.05,1025.00 771.45,1025.00 Z" fill="none" stroke="#000" stroke-width="2.2" stroke-linejoin="round"/>
<rect x="777.5" y="1035.8" width="45.9" height="3.8" fill="#a2a2a2" stroke="#000" stroke-width="1.94"/>
<rect x="893.85" y="936.8" width="16.3" height="16.4" rx="2.8" fill="none" stroke="#000" stroke-width="2.3"/>
<text x="902.0" y="950.2" font-size="14.872000000000002" font-family="Liberation Sans, sans-serif" font-weight="bold" fill="#000" text-anchor="middle">2</text>
<path d="M873.05,1025.00 H930.95 Q933.35,1025.00 933.35,1027.40 V1039.40 Q933.35,1041.90 930.35,1042.60 Q928.15,1043.10 927.15,1044.10 L923.25,1048.00 H880.75 L876.85,1044.10 Q875.85,1043.10 873.65,1042.60 Q870.65,1041.90 870.65,1039.40 V1027.40 Q870.65,1025.00 873.05,1025.00 Z" fill="none" stroke="#000" stroke-width="2.2" stroke-linejoin="round"/>
<rect x="879.1" y="1035.8" width="45.9" height="3.8" fill="#a2a2a2" stroke="#000" stroke-width="1.94"/>
<rect x="995.85" y="936.8" width="16.3" height="16.4" rx="2.8" fill="none" stroke="#000" stroke-width="2.3"/>
<text x="1004.0" y="950.2" font-size="14.872000000000002" font-family="Liberation Sans, sans-serif" font-weight="bold" fill="#000" text-anchor="middle">3</text>
<path d="M975.05,1025.00 H1032.95 Q1035.35,1025.00 1035.35,1027.40 V1039.40 Q1035.35,1041.90 1032.35,1042.60 Q1030.15,1043.10 1029.15,1044.10 L1025.25,1048.00 H982.75 L978.85,1044.10 Q977.85,1043.10 975.65,1042.60 Q972.65,1041.90 972.65,1039.40 V1027.40 Q972.65,1025.00 975.05,1025.00 Z" fill="#fff" stroke="#000" stroke-width="2.2" stroke-linejoin="round"/>
<rect x="981.1" y="1035.8" width="45.9" height="3.8" fill="#fff" stroke="#000" stroke-width="1.94"/>
<rect x="1097.85" y="936.8" width="16.3" height="16.4" rx="2.8" fill="none" stroke="#000" stroke-width="2.3"/>
<text x="1106.0" y="950.2" font-size="14.872000000000002" font-family="Liberation Sans, sans-serif" font-weight="bold" fill="#000" text-anchor="middle">4</text>
<path d="M1077.05,1025.00 H1134.95 Q1137.35,1025.00 1137.35,1027.40 V1039.40 Q1137.35,1041.90 1134.35,1042.60 Q1132.15,1043.10 1131.15,1044.10 L1127.25,1048.00 H1084.75 L1080.85,1044.10 Q1079.85,1043.10 1077.65,1042.60 Q1074.65,1041.90 1074.65,1039.40 V1027.40 Q1074.65,1025.00 1077.05,1025.00 Z" fill="none" stroke="#000" stroke-width="2.2" stroke-linejoin="round"/>
<rect x="1083.1" y="1035.8" width="45.9" height="3.8" fill="#a2a2a2" stroke="#000" stroke-width="1.94"/>
<rect x="1199.75" y="936.8" width="16.3" height="16.4" rx="2.8" fill="none" stroke="#000" stroke-width="2.3"/>
<text x="1207.9" y="950.2" font-size="14.872000000000002" font-family="Liberation Sans, sans-serif" font-weight="bold" fill="#000" text-anchor="middle">5</text>
<path d="M1178.95,1025.00 H1236.85 Q1239.25,1025.00 1239.25,1027.40 V1039.40 Q1239.25,1041.90 1236.25,1042.60 Q1234.05,1043.10 1233.05,1044.10 L1229.15,1048.00 H1186.65 L1182.75,1044.10 Q1181.75,1043.10 1179.55,1042.60 Q1176.55,1041.90 1176.55,1039.40 V1027.40 Q1176.55,1025.00 1178.95,1025.00 Z" fill="none" stroke="#000" stroke-width="2.2" stroke-linejoin="round"/>
<rect x="1185.0" y="1035.8" width="45.9" height="3.8" fill="#a2a2a2" stroke="#000" stroke-width="1.94"/>
<rect x="1301.4499999999998" y="936.8" width="16.3" height="16.4" rx="2.8" fill="none" stroke="#000" stroke-width="2.3"/>
<text x="1309.6" y="950.2" font-size="14.872000000000002" font-family="Liberation Sans, sans-serif" font-weight="bold" fill="#000" text-anchor="middle">6</text>
<path d="M1280.65,1025.00 H1338.55 Q1340.95,1025.00 1340.95,1027.40 V1039.40 Q1340.95,1041.90 1337.95,1042.60 Q1335.75,1043.10 1334.75,1044.10 L1330.85,1048.00 H1288.35 L1284.45,1044.10 Q1283.45,1043.10 1281.25,1042.60 Q1278.25,1041.90 1278.25,1039.40 V1027.40 Q1278.25,1025.00 1280.65,1025.00 Z" fill="none" stroke="#000" stroke-width="2.2" stroke-linejoin="round"/>
<rect x="1286.7" y="1035.8" width="45.9" height="3.8" fill="#a2a2a2" stroke="#000" stroke-width="1.94"/>
<text transform="translate(774.72,968.5) scale(0.9855,1)" font-size="12.10" font-family="Liberation Sans, sans-serif" font-weight="bold" fill="#000" stroke="#000" stroke-width="0.35" >CBL/SAT</text>
<text transform="translate(882.32,968.2) scale(0.9973,1)" font-size="12.10" font-family="Liberation Sans, sans-serif" font-weight="bold" fill="#000" stroke="#000" stroke-width="0.35" >MEDIA</text>
<text transform="translate(878.12,980.8) scale(0.9862,1)" font-size="12.10" font-family="Liberation Sans, sans-serif" font-weight="bold" fill="#000" stroke="#000" stroke-width="0.35" >PLAYER</text>
<text transform="translate(983.23,967.0) scale(1.0428,1)" font-size="11.30" font-family="Liberation Sans, sans-serif" font-weight="bold" fill="#000" stroke="#000" stroke-width="0.35" >Blu-ray</text>
<text transform="translate(1087.82,968.4) scale(1.0064,1)" font-size="11.90" font-family="Liberation Sans, sans-serif" font-weight="bold" fill="#000" stroke="#000" stroke-width="0.35" >GAME</text>
<text transform="translate(1193.31,968.4) scale(0.9663,1)" font-size="11.90" font-family="Liberation Sans, sans-serif" font-weight="bold" fill="#000" stroke="#000" stroke-width="0.35" >AUX1</text>
<text transform="translate(1294.41,968.4) scale(0.9903,1)" font-size="11.90" font-family="Liberation Sans, sans-serif" font-weight="bold" fill="#000" stroke="#000" stroke-width="0.35" >AUX2</text>
<rect x="1350" y="795" width="25" height="297" fill="#fff"/>
<path d="M1002.8,1040.4 V1104.8 H1362.6 V712.2" fill="none" stroke="#000" stroke-width="12.4" stroke-linejoin="round" stroke-linecap="round"/>
<rect x="1357.2" y="440" width="12.7" height="191" fill="#000"/>
<path d="M1351.5,388.2 V373.4 H1376.3 V388.2" fill="#fff" stroke="#000" stroke-width="2.6"/>
<path d="M1347.3,388.6 H1380 V423.0 L1372,433.6 H1355.3 L1347.3,423.0 Z" fill="#fff" stroke="#000" stroke-width="2.6" stroke-linejoin="miter"/>
<rect x="1354.7" y="433.6" width="17.8" height="8.6" fill="#fff" stroke="#000" stroke-width="2.6"/>
<path d="M1351.5,683.3 V698.1 H1376.3 V683.3" fill="#fff" stroke="#000" stroke-width="2.6"/>
<path d="M1347.3,682.9 H1380 V648.5 L1372,637.9 H1355.3 L1347.3,648.5 Z" fill="#fff" stroke="#000" stroke-width="2.6" stroke-linejoin="miter"/>
<rect x="1354.7" y="629.3" width="17.8" height="8.6" fill="#fff" stroke="#000" stroke-width="2.6"/>
<path d="M1181.8,87.3 H1147.1 A34.5,34.5 0 0 0 1112.6,121.8 V326.6 A34.5,34.5 0 0 0 1147.1,361.1 H1582.6 A34.5,34.5 0 0 0 1617.1,326.6 V121.8 A34.5,34.5 0 0 0 1582.6,87.3 H1541.4" fill="none" stroke="#000" stroke-width="3.4"/>
<text transform="translate(1170.58,47.9) scale(0.9194,1)" font-size="46.50" font-family="Liberation Sans, sans-serif" fill="#000"  >Blu-ray Disc player /</text>
<text transform="translate(1252.18,100.2) scale(0.9198,1)" font-size="46.50" font-family="Liberation Sans, sans-serif" fill="#000"  >DVD player</text>
<text transform="translate(1331.67,232.9) scale(0.9740,1)" font-size="26.00" font-family="Liberation Sans, sans-serif" fill="#000"  >HDMI</text>
<text transform="translate(1337.16,267.7) scale(0.9818,1)" font-size="25.80" font-family="Liberation Sans, sans-serif" fill="#000"  >OUT</text>
<path d="M1330.50,291.60 H1397.50 Q1400.30,291.60 1400.30,294.40 V307.24 Q1400.30,310.16 1396.79,310.98 Q1394.22,311.57 1393.05,312.74 L1388.48,317.30 H1339.52 L1334.95,312.74 Q1333.78,311.57 1331.21,310.98 Q1327.70,310.16 1327.70,307.24 V294.40 Q1327.70,291.60 1330.50,291.60 Z" fill="none" stroke="#000" stroke-width="2.6" stroke-linejoin="round"/>
<path d="M1339.7,301.9 H1388.3 V304.3 L1384.1,307.8 H1343.9 L1339.7,304.3 Z" fill="none" stroke="#000" stroke-width="2.08" stroke-linejoin="round"/>
</svg></body></html>
